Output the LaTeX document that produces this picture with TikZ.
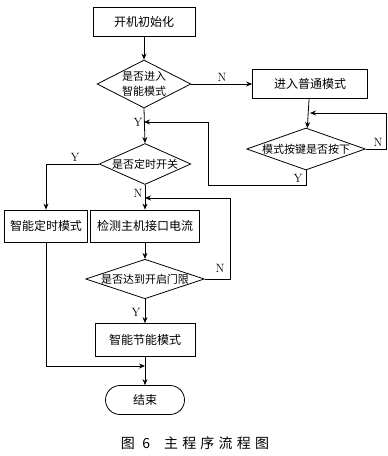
\documentclass[tikz,border=0pt]{standalone}
\usepackage{fontspec}
\newfontfamily\cjk{Noto Sans CJK SC}
\newfontfamily\capfont[LetterSpace=30]{Noto Sans CJK SC}
\usetikzlibrary{arrows.meta,shapes.geometric,shapes.misc}

\begin{document}
\begin{tikzpicture}[x=1pt,y=-1pt,>={Stealth[length=6pt,width=5pt]},line width=.8pt,
  box/.style={draw,font=\cjk\fontsize{12}{14}\selectfont,inner sep=0pt},
  decision/.style={draw,diamond,font=\cjk\fontsize{11}{15}\selectfont,inner sep=0pt,align=center},
  term/.style={draw,rounded rectangle,font=\cjk\fontsize{12}{14}\selectfont,inner sep=0pt},
  yn/.style={font=\fontsize{12}{13}\selectfont}]
\path[use as bounding box] (0,0) rectangle (388,456);
\node[box,minimum width=102pt,minimum height=29pt] (init) at (144,22) {开机初始化};
\node[decision,aspect=2,minimum height=48pt] (smart) at (144,84) {是否进入\\智能模式};
\node[box,minimum width=115pt,minimum height=29pt] (normal) at (310,84) {进入普通模式};
\node[decision,aspect=3,minimum height=42pt] (key) at (306,149) {模式按键是否按下};
\node[decision,aspect=2.5,minimum height=41pt] (timing) at (145,164) {是否定时开关};
\node[box,minimum width=83pt,minimum height=32pt] (tmode) at (46,226) {智能定时模式};
\node[box,minimum width=109pt,minimum height=32pt] (detect) at (145,226) {检测主机接口电流};
\node[decision,aspect=3,minimum height=38pt] (reach) at (145,279) {是否达到开启门限};
\node[box,minimum width=100pt,minimum height=33pt] (saving) at (145,340) {智能节能模式};
\node[term,minimum width=79pt,minimum height=29pt] (stop) at (145,400) {结束};
\node[font=\capfont\fontsize{14}{16}\selectfont] (cap) at (195,443) {图 6\quad 主程序流程图};

\draw[->] (init) -- (smart);
\draw[->] (smart.east) -- (normal.west);
\draw[->] (smart.south) -- (timing.north);
\draw[->] (normal) -- (key);
\draw[->] (key.east) -- (386,149) |- (normal.south |- 0,113);
\draw[->] (key.south) -- (key.south |- 0,185) -| (208,122) -- (smart.south |- 0,122);
\draw[->] (timing.west) -| (tmode.north);
\draw[->] (timing.south) -- (detect.north);
\draw[->] (detect) -- (reach);
\draw[->] (reach.east) -- (230,279) |- (detect.north |- 0,198);
\draw[->] (reach.south) -- (saving.north);
\draw[->] (tmode.south) |- (saving.south |- 0,366);
\draw[->] (saving) -- (stop);

\node[yn] (n1) at (222,77) {N};
\node[yn] (y1) at (138,122) {Y};
\node[yn] (n2) at (378,142) {N};
\node[yn] (y2) at (298,178) {Y};
\node[yn] (y3) at (75,157) {Y};
\node[yn] (n3) at (138,193) {N};
\node[yn] (n4) at (220,268) {N};
\node[yn] (y4) at (136,312) {Y};
\end{tikzpicture}
\end{document}
